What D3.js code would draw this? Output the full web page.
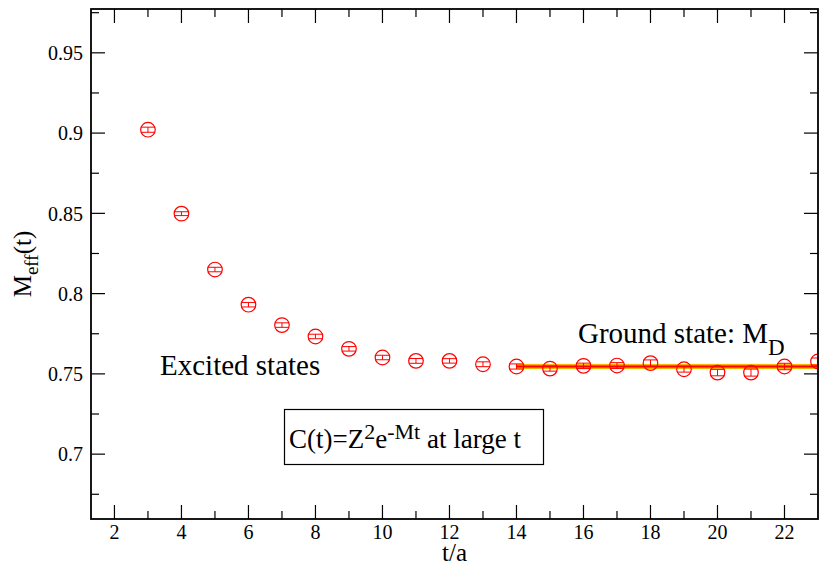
<!DOCTYPE html>
<html>
<head>
<meta charset="utf-8">
<script src="https://cdn.jsdelivr.net/npm/d3@7"></script>
<style>
  body { margin: 0; background: #fff; }
  .container { position: relative; width: 819px; height: 567px; }
  .container svg { position: absolute; left: 0; top: 0; }
  .lbl { position: absolute; white-space: nowrap; font-family: 'Liberation Serif'; color: #000; }
</style>
</head>
<body>
<div class="container"></div>
<script>
const width = 819, height = 567;
const margin = {left: 91, right: 1, top: 9, bottom: 48};

// data
const tValues = [3, 4, 5, 6, 7, 8, 9, 10, 11, 12, 13, 14, 15, 16, 17, 18, 19, 20, 21, 22, 23];
const meffValues = [0.9021, 0.8498, 0.8150, 0.7931, 0.7804, 0.7733, 0.7656, 0.7602, 0.7581, 0.7581, 0.7560,
    0.7546, 0.7533, 0.7550, 0.7552, 0.7567, 0.7529, 0.7508, 0.7508, 0.7546, 0.7577];
const meffErrors = [0.0016, 0.0012, 0.0014, 0.0014, 0.0014, 0.0014, 0.0014, 0.0014, 0.0015, 0.0014, 0.0015,
    0.0016, 0.0016, 0.0017, 0.0018, 0.0020, 0.0018, 0.0020, 0.0022, 0.0020, 0.0022];
const fitRange = [14, 23];
const fitValue = 0.7546;
const fitError = 0.0016;
const xMajorTicks = [2, 4, 6, 8, 10, 12, 14, 16, 18, 20, 22];
const xMinorTicks = [3, 5, 7, 9, 11, 13, 15, 17, 19, 21];
const yMajorTicks = [0.7, 0.75, 0.8, 0.85, 0.9, 0.95];
const yMinorTicks = [0.675, 0.725, 0.775, 0.825, 0.875, 0.925, 0.975];

const x = d3.scaleLinear().domain([1.3, 23]).range([margin.left, width - margin.right]);
const y = d3.scaleLinear().domain([0.6596, 0.9773]).range([height - margin.bottom, margin.top]);

const container = d3.select('.container');

const svg = container
    .append('svg')
    .attr('width', width)
    .attr('height', height);

const plot = svg.append('svg')
    .attr('x', x(1.3)).attr('y', y(0.9773))
    .attr('width', x(23) - x(1.3)).attr('height', y(0.6596) - y(0.9773))
    .append('g')
    .attr('transform', 'translate(' + (-x(1.3)) + ',' + (-y(0.9773)) + ')');

// fit band
plot.append('rect')
    .attr('x', x(fitRange[0]))
    .attr('y', y(fitValue + fitError))
    .attr('width', x(fitRange[1]) - x(fitRange[0]))
    .attr('height', y(fitValue - fitError) - y(fitValue + fitError))
    .attr('fill', '#ffb400');
plot.append('rect')
    .attr('x', x(fitRange[0]))
    .attr('y', y(fitValue + fitError * 0.55))
    .attr('width', x(fitRange[1]) - x(fitRange[0]))
    .attr('height', y(fitValue - fitError * 0.55) - y(fitValue + fitError * 0.55))
    .attr('fill', '#ff6a00');
plot.append('line')
    .attr('x1', x(fitRange[0])).attr('x2', x(fitRange[1]))
    .attr('y1', y(fitValue)).attr('y2', y(fitValue))
    .attr('stroke', '#ff0000').attr('stroke-width', 1.5);

// points with error bars
const pts = plot.selectAll('g.pt')
    .data(tValues.map((t, i) => ({t: t, v: meffValues[i], e: meffErrors[i]})))
    .enter()
    .append('g')
    .attr('class', 'pt');

pts.append('circle')
    .attr('cx', d => x(d.t))
    .attr('cy', d => y(d.v))
    .attr('r', 7.3)
    .attr('fill', 'none')
    .attr('stroke', '#ff0000')
    .attr('stroke-width', 1.2);

pts.append('line')
    .attr('x1', d => x(d.t)).attr('x2', d => x(d.t))
    .attr('y1', d => y(d.v + d.e)).attr('y2', d => y(d.v - d.e))
    .attr('stroke', '#ff0000').attr('stroke-width', 1);

pts.selectAll('line.cap')
    .data(d => [{t: d.t, v: d.v + d.e}, {t: d.t, v: d.v - d.e}])
    .enter()
    .append('line')
    .attr('class', 'cap')
    .attr('x1', d => x(d.t) - 7).attr('x2', d => x(d.t) + 7)
    .attr('y1', d => y(d.v)).attr('y2', d => y(d.v))
    .attr('stroke', '#ff0000').attr('stroke-width', 1);

// ticks on all four sides, pointing inward
const x0 = x.range()[0], x1 = x.range()[1], y0 = y.range()[0], y1 = y.range()[1];

function xTicks(vals, len) {
    svg.selectAll(null).data(vals).enter().append('line')
        .attr('x1', d => x(d)).attr('x2', d => x(d))
        .attr('y1', y0).attr('y2', y0 - len)
        .attr('stroke', '#000').attr('stroke-width', 1.2);
    svg.selectAll(null).data(vals).enter().append('line')
        .attr('x1', d => x(d)).attr('x2', d => x(d))
        .attr('y1', y1).attr('y2', y1 + len)
        .attr('stroke', '#000').attr('stroke-width', 1.2);
}
function yTicks(vals, len) {
    svg.selectAll(null).data(vals).enter().append('line')
        .attr('x1', x0).attr('x2', x0 + len)
        .attr('y1', d => y(d)).attr('y2', d => y(d))
        .attr('stroke', '#000').attr('stroke-width', 1.2);
    svg.selectAll(null).data(vals).enter().append('line')
        .attr('x1', x1).attr('x2', x1 - len)
        .attr('y1', d => y(d)).attr('y2', d => y(d))
        .attr('stroke', '#000').attr('stroke-width', 1.2);
}
xTicks(xMajorTicks, 14);
xTicks(xMinorTicks, 8);
yTicks(yMajorTicks, 14);
yTicks(yMinorTicks, 8);

svg.append('rect')
    .attr('x', x0).attr('y', y1)
    .attr('width', x1 - x0).attr('height', y0 - y1)
    .attr('fill', 'none')
    .attr('stroke', '#000')
    .attr('stroke-width', 1.8);

svg.append('rect')
    .attr('x', 284.5).attr('y', 409.5)
    .attr('width', 259).attr('height', 55)
    .attr('fill', '#fff')
    .attr('stroke', '#000')
    .attr('stroke-width', 1.2);

// html labels laid over the svg; px, baseline in page pixels
function label(px, baseline, size, anchor, html) {
    const shift = anchor === 'middle' ? '-50%' : anchor === 'end' ? '-100%' : '0';
    return container.append('div')
        .attr('class', 'lbl')
        .style('left', px + 'px')
        .style('top', (baseline - 0.84 * size) + 'px')
        .style('font-size', size + 'px')
        .style('line-height', size + 'px')
        .style('transform', 'translateX(' + shift + ')')
        .html(html);
}

const sup = (s, size, up) => '<span style="font-size:' + size + 'px;vertical-align:' + up + 'px">' + s + '</span>';

xMajorTicks.forEach(d => label(x(d), y0 + 20, 20, 'middle', d));
yMajorTicks.forEach(d => label(x0 - 8, y(d) + 7, 20, 'end', d));

label((x0 + x1) / 2, 561, 25, 'middle', 't/a');

container.append('div')
    .attr('class', 'lbl')
    .style('left', '27px')
    .style('top', ((y0 + y1) / 2) + 'px')
    .style('font-size', '25px')
    .style('line-height', '25px')
    .style('transform', 'translate(-50%, -50%) rotate(-90deg)')
    .html('M' + sup('eff', 19, -7) + '(t)');

label(160, 375, 29, 'start', 'Excited states');
label(578, 343, 29, 'start', 'Ground state: M' + sup('D', 23, -12));
label(289, 441, 27, 'start',
    'C(t)=Z' + sup('2', 22, 9) + 'e' + sup('-Mt', 22, 9) + ' at large t');
</script>
</body>
</html>
